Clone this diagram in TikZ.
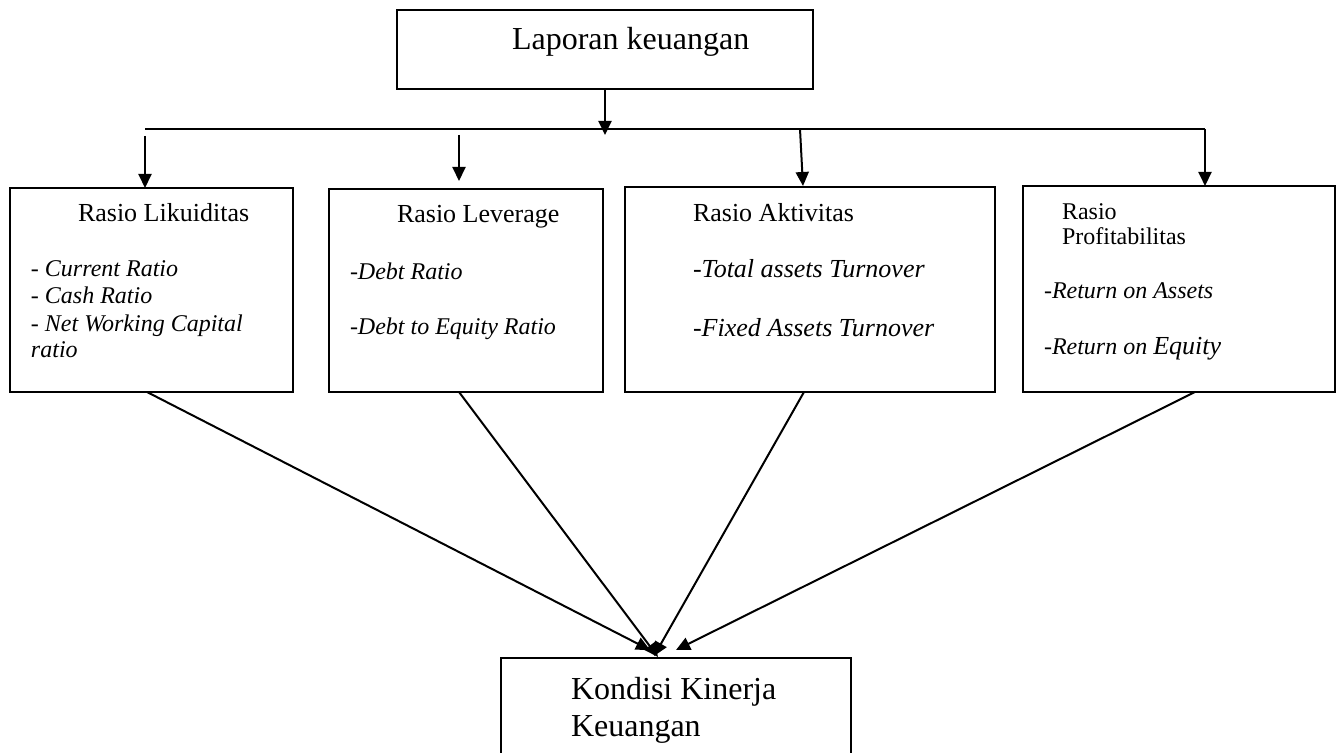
\documentclass[tikz,border=0pt]{standalone}
\usepackage{fontspec}
\setmainfont{Liberation Serif}
\usetikzlibrary{arrows.meta}
\begin{document}
\begin{tikzpicture}[x=0.5pt,y=-0.5pt,
  box/.style={draw, line width=0.9pt, rectangle, anchor=north west, inner sep=0pt, outer sep=0pt},
  lbl/.style={anchor=base west, inner sep=0pt, outer sep=0pt},
  head/.style={lbl, font=\fontsize{13}{15}\selectfont},
  headsm/.style={lbl, font=\fontsize{12}{14}\selectfont},
  itm/.style={lbl, font=\fontsize{12}{14}\selectfont\itshape},
  itmlg/.style={lbl, font=\fontsize{13}{15}\selectfont\itshape},
  big/.style={lbl, font=\fontsize{16}{19}\selectfont},
  conn/.style={line width=1pt},
  arr/.style={line width=1pt, -{Triangle[length=7pt,width=6.5pt]}}]
\useasboundingbox (0,0) rectangle (1339,753);
\clip (0,0) rectangle (1339,753);

% boxes
\node[box, minimum width=208pt, minimum height=39.5pt] (top) at (397,10) {};
\node[box, minimum width=141.5pt, minimum height=102pt] (b1) at (10,188) {};
\node[box, minimum width=137pt, minimum height=101.5pt] (b2) at (329,189) {};
\node[box, minimum width=185pt, minimum height=102.5pt] (b3) at (625,187) {};
\node[box, minimum width=156pt, minimum height=103pt] (b4) at (1023,186) {};
\node[box, minimum width=175pt, minimum height=75pt] (bot) at (501,658) {};

% texts
\node[big] (ttop) at (512,50) {Laporan keuangan};
\node[head] (t1) at (78,222) {Rasio Likuiditas};
\node[itm] (i1a) at (31,277) {- Current Ratio};
\node[itm] (i1b) at (31,304) {- Cash Ratio};
\node[itm] (i1c) at (31,332) {- Net Working Capital};
\node[itm] (i1d) at (31,358) {ratio};
\node[head] (t2) at (397,223) {Rasio Leverage};
\node[itm] (i2a) at (350,280) {-Debt Ratio};
\node[itm] (i2b) at (350,335) {-Debt to Equity Ratio};
\node[head] (t3) at (693,222) {Rasio Aktivitas};
\node[itmlg] (i3a) at (693,278) {-Total assets Turnover};
\node[itmlg] (i3b) at (693,337) {-Fixed Assets Turnover};
\node[headsm] (t4a) at (1062,220) {Rasio};
\node[headsm] (t4b) at (1062,245) {Profitabilitas};
\node[itm] (i4a) at (1044,299) {-Return on Assets};
\node[itm] (i4b) at (1044,355) {-Return on {\fontsize{13}{15}\selectfont Equity}};
\node[big] (tb1) at (571,699) {Kondisi Kinerja};
\node[big] (tb2) at (571,736) {Keuangan};

% distribution lines
\coordinate (hl) at (145,129);
\coordinate (hr) at (1205,129);
\coordinate (hubtip) at (605,135);
\coordinate (a1s) at (145,136);
\coordinate (a2s) at (459,135);
\coordinate (a2e) at (459,181);
\coordinate (a3s) at (800,129);
\coordinate (a3e) at (803,186);

\draw[arr] (top.south) -- (hubtip);
\draw[conn] (hl) -- (hr);
\draw[arr] (hr) -- (hr |- b4.north);
\draw[arr] (a1s) -- (a1s |- b1.north);
\draw[arr] (a2s) -- (a2e);
\draw[arr] (a3s) -- (a3e);

% converging arrows
\draw[arr] ([xshift=-2.25pt]b1.south) -- ([xshift=-13pt,yshift=4pt]bot.north);
\draw[arr] ([xshift=-3.5pt]b2.south) -- ([xshift=-9pt,yshift=0.5pt]bot.north);
\draw[arr] ([xshift=-3pt]b3.south) -- ([xshift=-11pt,yshift=1pt]bot.north);
\draw[arr] ([xshift=8pt]b4.south) -- ([yshift=4pt]bot.north);
\end{tikzpicture}
\end{document}
